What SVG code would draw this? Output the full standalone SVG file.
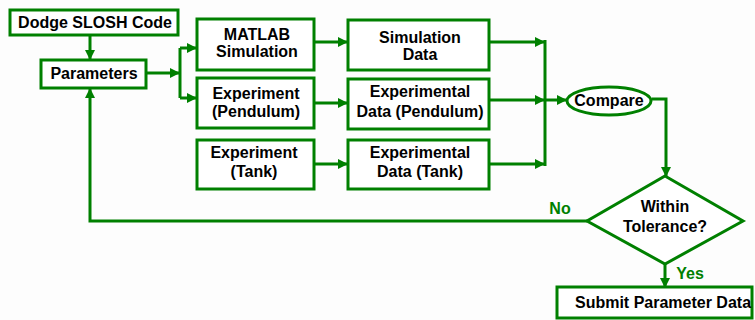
<svg xmlns="http://www.w3.org/2000/svg" width="755" height="320" viewBox="0 0 755 320">
<style>
.box{fill:#fff;stroke:#008000;stroke-width:3}
.t{font-family:"Liberation Sans",Arial,sans-serif;font-weight:bold;font-size:16px;fill:#000;text-anchor:middle}
.lbl{font-family:"Liberation Sans",Arial,sans-serif;font-weight:bold;font-size:16px;fill:#008000;text-anchor:middle}
.c{fill:none;stroke:#008000;stroke-width:3}
</style>
<defs>
<marker id="ah" markerUnits="userSpaceOnUse" markerWidth="10" markerHeight="10" refX="9" refY="5" orient="auto">
<path d="M0,0 L10,5 L0,10 Z" fill="#008000"/>
</marker>
</defs>
<rect width="755" height="320" fill="#fdfdfd"/>
<g id="connectors">
<path class="c" d="M90,35 V59" marker-end="url(#ah)"/>
<path class="c" d="M147,73 H179" marker-end="url(#ah)"/>
<path class="c" d="M180,48 V98"/>
<path class="c" d="M180,48 H196" marker-end="url(#ah)"/>
<path class="c" d="M180,98 H196" marker-end="url(#ah)"/>
<path class="c" d="M314,42 H347" marker-end="url(#ah)"/>
<path class="c" d="M314,103 H347" marker-end="url(#ah)"/>
<path class="c" d="M314,164 H347" marker-end="url(#ah)"/>
<path class="c" d="M489,42 H544" marker-end="url(#ah)"/>
<path class="c" d="M489,100 H544" marker-end="url(#ah)"/>
<path class="c" d="M489,164 H544" marker-end="url(#ah)"/>
<path class="c" d="M545,40 V166"/>
<path class="c" d="M545,100 H566" marker-end="url(#ah)"/>
<path class="c" d="M652,99 H666 V176" marker-end="url(#ah)"/>
<path class="c" d="M665,264 V287" marker-end="url(#ah)"/>
<path class="c" d="M587,221 H90 V89" marker-end="url(#ah)"/>
<text class="lbl" x="560" y="214">No</text>
<text class="lbl" x="690" y="279">Yes</text>
</g>
<g id="dodge">
<rect class="box" x="10" y="10" width="168" height="25"/>
<text class="t" x="95" y="28">Dodge SLOSH Code</text>
</g>
<g id="parameters">
<rect class="box" x="41" y="60" width="105" height="28"/>
<text class="t" x="94" y="79">Parameters</text>
</g>
<g id="matlab">
<rect class="box" x="197" y="19" width="117" height="51"/>
<text class="t" x="257" y="40">MATLAB</text>
<text class="t" x="257" y="57">Simulation</text>
</g>
<g id="exp-pendulum">
<rect class="box" x="197" y="78" width="117" height="50"/>
<text class="t" x="256" y="99">Experiment</text>
<text class="t" x="256" y="117">(Pendulum)</text>
</g>
<g id="exp-tank">
<rect class="box" x="197" y="140" width="117" height="49"/>
<text class="t" x="254" y="158">Experiment</text>
<text class="t" x="254" y="177">(Tank)</text>
</g>
<g id="sim-data">
<rect class="box" x="348" y="20" width="141" height="50"/>
<text class="t" x="420" y="43">Simulation</text>
<text class="t" x="420" y="60">Data</text>
</g>
<g id="exp-data-pendulum">
<rect class="box" x="348" y="79" width="141" height="50"/>
<text class="t" x="420" y="97">Experimental</text>
<text class="t" x="420" y="117">Data (Pendulum)</text>
</g>
<g id="exp-data-tank">
<rect class="box" x="348" y="140" width="141" height="49"/>
<text class="t" x="420" y="158">Experimental</text>
<text class="t" x="420" y="177">Data (Tank)</text>
</g>
<g id="compare">
<ellipse class="box" cx="609" cy="101" rx="42" ry="14"/>
<text class="t" x="609" y="106">Compare</text>
</g>
<g id="tolerance">
<polygon class="box" points="665,176 743,221 665,264 587,221"/>
<text class="t" x="665" y="212">Within</text>
<text class="t" x="665" y="232">Tolerance?</text>
</g>
<g id="submit">
<rect class="box" x="557" y="287" width="195" height="31"/>
<text class="t" x="663" y="308">Submit Parameter Data</text>
</g>
</svg>
